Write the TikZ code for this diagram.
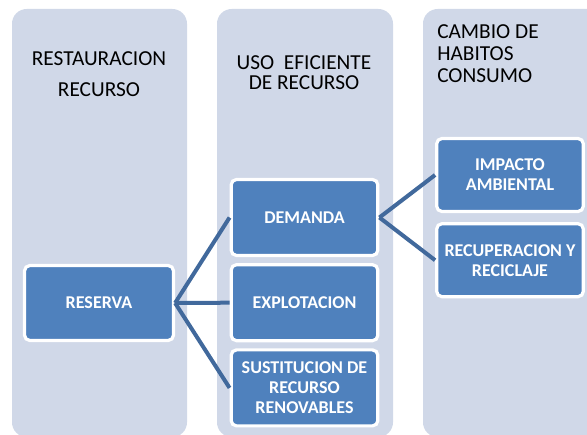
\documentclass[tikz,border=0pt]{standalone}
\usepackage{fontspec}
\setmainfont{Carlito}
\usetikzlibrary{positioning}

\definecolor{colbg}{HTML}{D0D8E8}
\definecolor{boxblue}{HTML}{4F81BD}
\definecolor{linkblue}{HTML}{41699C}

\tikzset{
    column/.style={fill=colbg, rounded corners=11pt},
    header/.style={inner sep=0pt, text=black, font=\fontsize{16}{23}\selectfont},
    item/.style={draw=white, line width=2.4pt, fill=boxblue, rounded corners=4pt,
        text=white, align=center, inner sep=2pt,
        font=\fontsize{13.5}{15}\selectfont\bfseries,
        minimum width=110pt, minimum height=57pt},
    link/.style={linkblue, line width=3pt}
}

\begin{document}
\begin{tikzpicture}[x=0.75pt, y=-0.75pt]
        % fix the page
        \clip (0,0) rectangle (587,435);

        % draw the three columns
        \fill[column] (12,9) rectangle (187,437);
        \fill[column] (217,9) rectangle (393,437);
        \fill[column] (423,9) rectangle (605,437);

        % draw the column titles
        \node[header, align=center] (restauracion) at (99,74) {RESTAURACION\\RECURSO};
        \node[header, align=center, font=\fontsize{16}{15}\selectfont] (uso) at (304,72.5) {USO\ \ EFICIENTE\\DE RECURSO};
        \node[header, align=left, anchor=west, font=\fontsize{16}{16.5}\selectfont] (cambio) at (437,54) {CAMBIO DE\\HABITOS\\CONSUMO};

        % draw the boxes
        \node[item, minimum width=111.75pt, minimum height=56.25pt] (reserva) at (99,303) {RESERVA};
        \node[item] (demanda) at (304.5,217.5) {DEMANDA};
        \node[item, below=4.5pt of demanda] (explotacion) {EXPLOTACION};
        \node[item, below=4.5pt of explotacion] (sustitucion) {SUSTITUCION DE\\RECURSO\\RENOVABLES};
        \node[item, minimum height=54.75pt] (impacto) at (510,175) {IMPACTO\\AMBIENTAL};
        \node[item, minimum height=54.75pt, below=6.75pt of impacto] (recuperacion) {RECUPERACION Y\\RECICLAJE};

        % draw the links
        \draw[link] (reserva.east) -- (demanda.west);
        \draw[link] (reserva.east) -- (explotacion.west);
        \draw[link] (reserva.east) -- (sustitucion.west);
        \draw[link] (demanda.east) -- (impacto.west);
        \draw[link] (demanda.east) -- (recuperacion.west);
    \end{tikzpicture}
\end{document}
